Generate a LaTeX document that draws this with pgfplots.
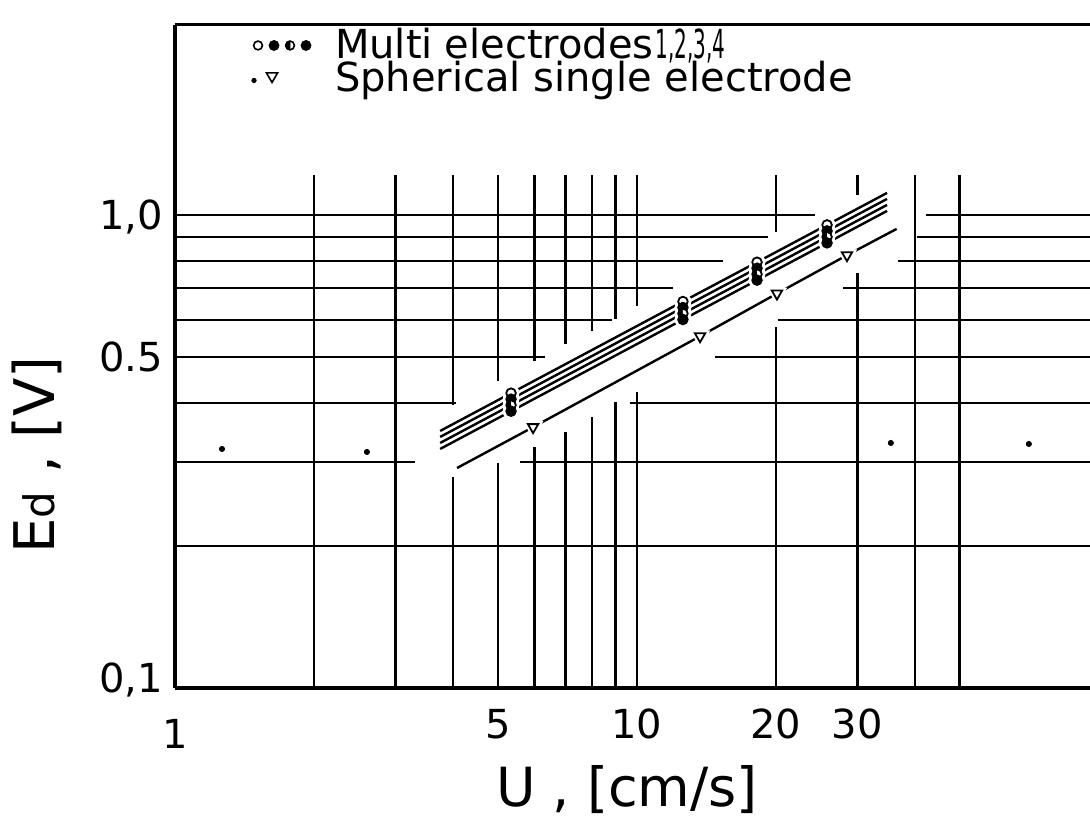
\documentclass[border=0pt]{standalone}
\usepackage{fontspec}
\setmainfont{DejaVu Sans}
\usepackage{pgfplots}
\usepackage{pgfplotstable}
\usepackage{graphicx}
\pgfplotsset{compat=1.18}

% Multi electrodes 1-4: first and last rows are the line ends, the rest are measurements
\pgfplotstableread{
U E
3.75 0.3494
5.34 0.4200
12.58 0.6561
18.2 0.7946
25.8 0.9525
34.8 1.1130
}\multiA
\pgfplotstableread{
U E
3.75 0.3394
5.34 0.4079
12.58 0.6372
18.2 0.7717
25.8 0.9252
34.8 1.0810
}\multiB
\pgfplotstableread{
U E
3.75 0.3296
5.34 0.3962
12.58 0.6188
18.2 0.7494
25.8 0.8986
34.8 1.0499
}\multiC
\pgfplotstableread{
U E
3.75 0.3201
5.34 0.3847
12.58 0.6010
18.2 0.7279
25.8 0.8726
34.8 1.0197
}\multiD
% Spherical single electrode
\pgfplotstableread{
U E
4.08 0.2918
5.96 0.356
13.7 0.554
20.1 0.682
28.5 0.822
36.5 0.934
}\single
% isolated dots
\pgfplotstableread{
U E
1.264 0.3201
2.603 0.3155
35.46 0.3296
70.56 0.3280
}\dots

\tikzset{
  vgrid/.style={line width=1.3pt},
  hgrid/.style={line width=1pt},
}

\begin{document}
\begin{tikzpicture}
\useasboundingbox (-87.5pt,-65.5pt) rectangle (457.5pt,344pt);
\begin{axis}[
  at={(0,0)}, anchor=south west,
  scale only axis, width=457.5pt, height=331.5pt,
  xmode=log, ymode=log,
  xmin=1, xmax=95.7, ymin=0.1, ymax=2.52,
  clip=false,
  axis lines*=left,
  axis line style={-, line width=2pt},
  tick style={draw=none},
  xtick={1,5,10,20,30},
  xticklabels={{\raisebox{-5pt}{1}},5,10,20,30},
  ytick={0.1,0.5,1},
  yticklabels={{\raisebox{5pt}{0,1}},0.5,{1,0}},
  tick label style={font=\fontsize{20}{20}\selectfont},
  xticklabel style={anchor=base, yshift=-25pt},
  yticklabel style={anchor=base east, yshift=-7.3pt, xshift=-2.5pt},
  xlabel={U , [cm/s]},
  xlabel style={at={(axis description cs:0.494,-0.1538)}, anchor=center,
                font=\fontsize{27}{27}\selectfont},
  ylabel={E{\fontsize{21}{21}\selectfont d} , [V]},
  ylabel style={at={(axis description cs:-0.1508,0.3514)}, anchor=center,
                font=\fontsize{28}{28}\selectfont},
  legend style={at={(axis description cs:0.0809,0.991)}, anchor=north west,
                draw=none, fill=none, inner sep=0pt, outer sep=0pt,
                row sep=0pt,
                nodes={inner sep=0pt, text height=14pt, text depth=2.5pt,
                       font=\fontsize{20}{24}\selectfont},
                cells={anchor=west}},
]
% legend
\addlegendimage{legend image code/.code={
  \path[draw=none] (-2pt,1pt) -- (41pt,1pt);
  \draw[line width=0.8pt, fill=white] (2.5pt,1pt) circle (2.2pt);
  \fill[black] (10.5pt,1pt) circle (2.5pt);
  \draw[line width=0.8pt, fill=white] (18.5pt,1pt) circle (2.2pt);
  \fill[black] (18.5pt,3.2pt) arc (90:270:2.2pt) -- cycle;
  \fill[black] (26.5pt,1pt) circle (2.5pt);
}}
\addlegendentry{Multi\hspace{0.3em}electrodes\kern1pt\scalebox{0.5}[1]{1,2,3,4}}
\addlegendimage{legend image code/.code={
  \path[draw=none] (-2pt,1pt) -- (41pt,1pt);
  \fill[black] (0.5pt,0pt) circle (1.1pt);
  \draw[line width=0.8pt, fill=white] (9.5pt,-1pt) -- (6.7pt,3.8pt) -- (12.3pt,3.8pt) -- cycle;
}}
\addlegendentry{Spherical single electrode}

% horizontal grid lines, broken around the curves
\draw[hgrid] (1,1) -- (24.28,1);     \draw[hgrid] (42.22,1) -- (95.7,1);
\draw[hgrid] (1,0.9) -- (19.21,0.9); \draw[hgrid] (40.37,0.9) -- (95.7,0.9);
\draw[hgrid] (1,0.8) -- (15.36,0.8); \draw[hgrid] (36.72,0.8) -- (95.7,0.8);
\draw[hgrid] (1,0.7) -- (11.97,0.7); \draw[hgrid] (27.92,0.7) -- (95.7,0.7);
\draw[hgrid] (1,0.6) -- (8.83,0.6);  \draw[hgrid] (20.19,0.6) -- (95.7,0.6);
\draw[hgrid] (1,0.5) -- (6.32,0.5);  \draw[hgrid] (14.75,0.5) -- (95.7,0.5);
\draw[hgrid] (1,0.4) -- (4.06,0.4);  \draw[hgrid] (9.66,0.4) -- (95.7,0.4);
\draw[hgrid] (1,0.3) -- (3.31,0.3);  \draw[hgrid] (5.58,0.3) -- (95.7,0.3);
\draw[hgrid] (1,0.2) -- (95.7,0.2);
% vertical grid lines
\draw[vgrid] (2,0.1) -- (2,1.215);
\draw[vgrid] (3,0.1) -- (3,1.215);
\draw[vgrid] (4,0.1) -- (4,0.2793);   \draw[vgrid] (4,0.3966) -- (4,1.215);
\draw[vgrid] (5,0.1) -- (5,0.2990);   \draw[vgrid] (5,0.4457) -- (5,1.215);
\draw[vgrid] (6,0.1) -- (6,0.3232);   \draw[vgrid] (6,0.4913) -- (6,1.215);
\draw[vgrid] (7,0.1) -- (7,0.3477);   \draw[vgrid] (7,0.5338) -- (7,1.215);
\draw[vgrid] (8,0.1) -- (8,0.3740);   \draw[vgrid] (8,0.5687) -- (8,1.215);
\draw[vgrid] (9,0.1) -- (9,0.4025);   \draw[vgrid] (9,0.6028) -- (9,1.215);
\draw[vgrid] (10,0.1) -- (10,0.4223); \draw[vgrid] (10,0.6421) -- (10,1.215);
\draw[vgrid] (20,0.1) -- (20,0.5799); \draw[vgrid] (20,0.9205) -- (20,1.215);
\draw[vgrid] (30,0.1) -- (30,0.7541); \draw[vgrid] (30,1.1023) -- (30,1.215);
\draw[vgrid] (40,0.1) -- (40,1.215);
\draw[vgrid] (50,0.1) -- (50,1.215);
% top frame
\draw[line width=1.5pt] (rel axis cs:0,1) -- (rel axis cs:1,1);

% fitted lines
\addplot[black, line width=1.2pt, mark=none] table {\multiA};
\addplot[black, line width=1.2pt, mark=none] table {\multiB};
\addplot[black, line width=1.2pt, mark=none] table {\multiC};
\addplot[black, line width=1.2pt, mark=none] table {\multiD};
\addplot[black, line width=1.2pt, mark=none] table {\single};

% white halos that break the lines at the markers
\addplot[only marks, mark=*, mark size=4pt, white, mark indices={2,3,4,5}] table {\multiA};
\addplot[only marks, mark=*, mark size=4pt, white, mark indices={2,3,4,5}] table {\multiB};
\addplot[only marks, mark=*, mark size=4pt, white, mark indices={2,3,4,5}] table {\multiC};
\addplot[only marks, mark=*, mark size=4pt, white, mark indices={2,3,4,5}] table {\multiD};
\addplot[only marks, mark=triangle*, mark size=5.5pt, white,
         mark options={rotate=180}, mark indices={2,3,4,5}] table {\single};

% measured points
\addplot[only marks, mark=*, mark size=2.4pt, mark options={draw=black, fill=white, line width=0.9pt},
         mark indices={2,3,4,5}] table {\multiA};
\addplot[only marks, mark=*, mark size=2.4pt, mark options={draw=black, fill=black, line width=0.9pt},
         mark indices={2,3,4,5}] table {\multiB};
\addplot[only marks, mark=halfcircle*, mark size=2.4pt, mark options={draw=black, fill=black, line width=0.9pt, rotate=90},
         mark indices={2,3,4,5}] table {\multiC};
\addplot[only marks, mark=*, mark size=2.4pt, mark options={draw=black, fill=black, line width=0.9pt},
         mark indices={2,3,4,5}] table {\multiD};
\addplot[only marks, mark=triangle*, mark size=3pt,
         mark options={draw=black, fill=white, line width=0.9pt, rotate=180},
         mark indices={2,3,4,5}] table {\single};

\addplot[only marks, mark=*, mark size=1.3pt, black] table {\dots};
\end{axis}
\end{tikzpicture}
\end{document}
